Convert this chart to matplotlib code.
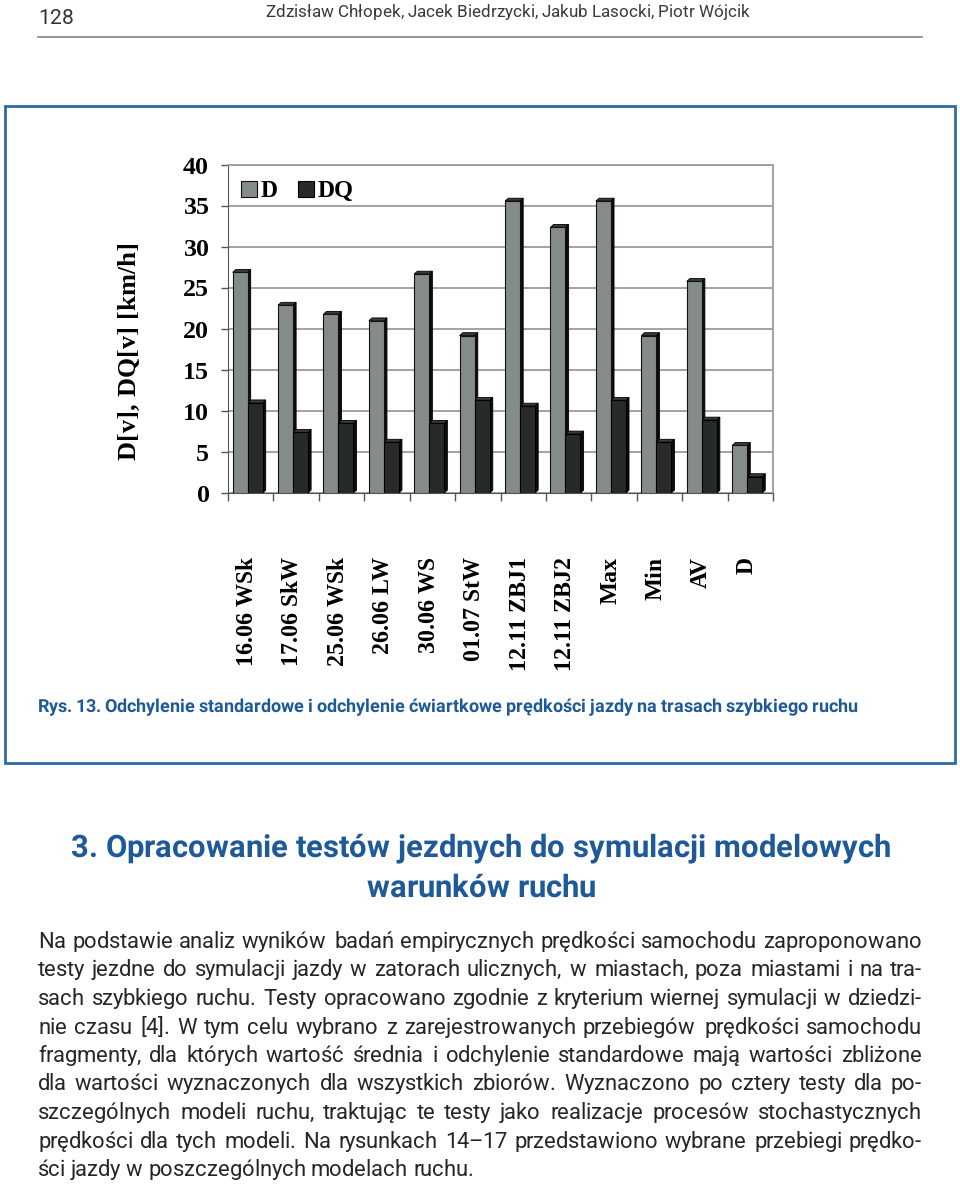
import numpy as np
import matplotlib
matplotlib.use('Agg')
import matplotlib.pyplot as plt
from matplotlib.patches import Polygon, Rectangle
from matplotlib.lines import Line2D

plt.rcParams['text.hinting'] = 'native'
plt.rcParams['text.hinting_factor'] = 1

## data

categories = ['16.06 WSk', '17.06 SkW', '25.06 WSk', '26.06 LW', '30.06 WS',
              '01.07 StW', '12.11 ZBJ1', '12.11 ZBJ2', 'Max', 'Min', 'AV', 'D']
d_vals = [26.9, 22.9, 21.8, 21.0, 26.7, 19.2, 35.6, 32.4, 35.6, 19.2, 25.8, 5.8]
dq_vals = [11.0, 7.4, 8.5, 6.2, 8.5, 11.3, 10.6, 7.2, 11.3, 6.2, 8.9, 2.0]
series = ['D', 'DQ']
y_ticks = [0, 5, 10, 15, 20, 25, 30, 35, 40]

page_no = '128'
authors = 'Zdzisław Chłopek, Jacek Biedrzycki, Jakub Lasocki, Piotr Wójcik'
caption = ('Rys. 13. Odchylenie standardowe i odchylenie ćwiartkowe prędkości '
           'jazdy na trasach szybkiego ruchu')
heading = ['3. Opracowanie testów jezdnych do symulacji modelowych',
           'warunków ruchu']
body = [
    'Na podstawie analiz wyników badań empirycznych prędkości samochodu zaproponowano',
    'testy jezdne do symulacji jazdy w zatorach ulicznych, w miastach, poza miastami i na tra-',
    'sach szybkiego ruchu. Testy opracowano zgodnie z kryterium wiernej symulacji w dziedzi-',
    'nie czasu [4]. W tym celu wybrano z zarejestrowanych przebiegów prędkości samochodu',
    'fragmenty, dla których wartość średnia i odchylenie standardowe mają wartości zbliżone',
    'dla wartości wyznaczonych dla wszystkich zbiorów. Wyznaczono po cztery testy dla po-',
    'szczególnych modeli ruchu, traktując te testy jako realizacje procesów stochastycznych',
    'prędkości dla tych modeli. Na rysunkach 14–17 przedstawiono wybrane przebiegi prędko-',
    'ści jazdy w poszczególnych modelach ruchu.',
]

## 

W, H = 960, 1185
def fx(x): return x / W
def fy(y): return 1 - y / H

blue = '#1f5a98'
serif = ['Liberation Serif', 'DejaVu Serif']
sans = ['Roboto', 'DejaVu Sans']

fig = plt.figure(figsize=(W / 100, H / 100), dpi=100)

# page header
fig.text(fx(38), fy(18), page_no, family=sans, fontsize=15, color='#333333',
         va='center', ha='left')
fig.text(fx(508), fy(12), authors, family=sans, fontsize=12.2, color='#3a3a3a',
         va='center', ha='center')
fig.add_artist(Line2D([fx(38), fx(922)], [fy(37), fy(37)], color='#8c8c8c', lw=1.3))

# blue frame round the figure
fig.add_artist(Rectangle((fx(5), fy(763)), fx(955) - fx(5), fy(106) - fy(763),
                         transform=fig.transFigure, fill=False,
                         edgecolor='#2f6aa3', lw=2))

## chart

ax = fig.add_axes([fx(228), fy(493), fx(773) - fx(228), fy(165) - fy(493)])

x = np.arange(len(categories))
w = 0.33
shift = -0.07
b1 = ax.bar(x + shift - w / 2, d_vals, w, color='#858b8b', edgecolor='#111111',
            lw=0.8, label=series[0], zorder=3)
b2 = ax.bar(x + shift + w / 2, dq_vals, w, color='#262a2a', edgecolor='#000000',
            lw=0.8, label=series[1], zorder=3)

# fake 3d depth, like the excel original
ddx, ddy = 0.07, 0.35
for bars in (b1, b2):
    for r in bars:
        x0, h, bw = r.get_x(), r.get_height(), r.get_width()
        side = Polygon([(x0 + bw, 0), (x0 + bw + ddx, ddy), (x0 + bw + ddx, h + ddy),
                        (x0 + bw, h)], closed=True, facecolor='#0c0c0c',
                       edgecolor='#000000', lw=0.6, zorder=2.9)
        top = Polygon([(x0, h), (x0 + ddx, h + ddy), (x0 + bw + ddx, h + ddy),
                       (x0 + bw, h)], closed=True, facecolor='#3a3a3a',
                      edgecolor='#000000', lw=0.6, zorder=2.9)
        ax.add_patch(side)
        ax.add_patch(top)

ax.set_xlim(-0.5, len(categories) - 0.5)
ax.set_ylim(0, 40)
ax.set_yticks(y_ticks)
ax.yaxis.grid(True, color='#9c9c9c', lw=1.3, zorder=0)
ax.set_axisbelow(True)

for s in ('top', 'right'):
    ax.spines[s].set_color('#9c9c9c')
    ax.spines[s].set_linewidth(1.3)
ax.spines['left'].set_color('#555555')
ax.spines['bottom'].set_color('#555555')

ax.tick_params(axis='y', length=5, width=1, color='#555555', pad=9,
               labelsize=18)
for t in ax.get_yticklabels():
    t.set_family(serif)
    t.set_fontweight('bold')

ax.set_xticks(x - 0.08)
ax.set_xticklabels(categories, rotation=90, family=serif, fontweight='bold',
                   fontsize=17.4)
ax.tick_params(axis='x', which='major', length=0, pad=46)
ax.set_xticks(np.arange(len(categories) + 1) - 0.5, minor=True)
ax.tick_params(axis='x', which='minor', length=6, width=1, color='#555555')

fig.text(fx(130), fy(351), 'D[v], DQ[v] [km/h]', rotation=90, family=serif,
         fontweight='bold', fontsize=19, ha='center', va='center')

leg = ax.legend(loc='upper left', ncol=2, frameon=False,
                bbox_to_anchor=(-0.02, 1.025),
                handlelength=0.7, handleheight=0.7, handletextpad=0.15,
                columnspacing=0.85, borderaxespad=0.6,
                prop={'family': serif, 'weight': 'bold', 'size': 17})

## caption, heading and body text

fig.text(fx(38), fy(707), caption, family=sans, fontsize=12.8, fontweight='bold',
         color=blue, va='center', ha='left')
fig.text(fx(481), fy(848), heading[0], family=sans, fontsize=22.6, fontweight='bold',
         color=blue, va='center', ha='center')
fig.text(fx(481), fy(888), heading[1], family=sans, fontsize=22.6, fontweight='bold',
         color=blue, va='center', ha='center')

fig.canvas.draw()
rend = fig.canvas.get_renderer()
left, right = 38, 922
y0, step = 948, 28.5

# pick the body font size so the longest line just fills the column
fs0 = 14.0
nat = []
for line in body[:-1]:
    t = fig.text(0, 0, line, family=sans, fontsize=fs0)
    nat.append(t.get_window_extent(rend).width)
    t.remove()
fs = fs0 * (right - left) / max(nat) * 0.995

probe = fig.text(0, 0, 'n n', family=sans, fontsize=fs)
probe2 = fig.text(0, 0, 'nn', family=sans, fontsize=fs)
space = probe.get_window_extent(rend).width - probe2.get_window_extent(rend).width
probe.remove(); probe2.remove()

for k, line in enumerate(body):
    words = line.split(' ')
    base = round(y0 + k * step)
    ts = [fig.text(0, fy(base), wd, family=sans, fontsize=fs,
                   color='#262626', va='baseline', ha='left') for wd in words]
    widths = [t.get_window_extent(rend).width for t in ts]
    if k == len(body) - 1:
        gap = space
    else:
        gap = (right - left - sum(widths)) / (len(words) - 1)
    xx = left
    for t, wd in zip(ts, widths):
        t.set_x(fx(round(xx)))
        xx += wd + gap

fig.savefig('out.png', dpi=100)
